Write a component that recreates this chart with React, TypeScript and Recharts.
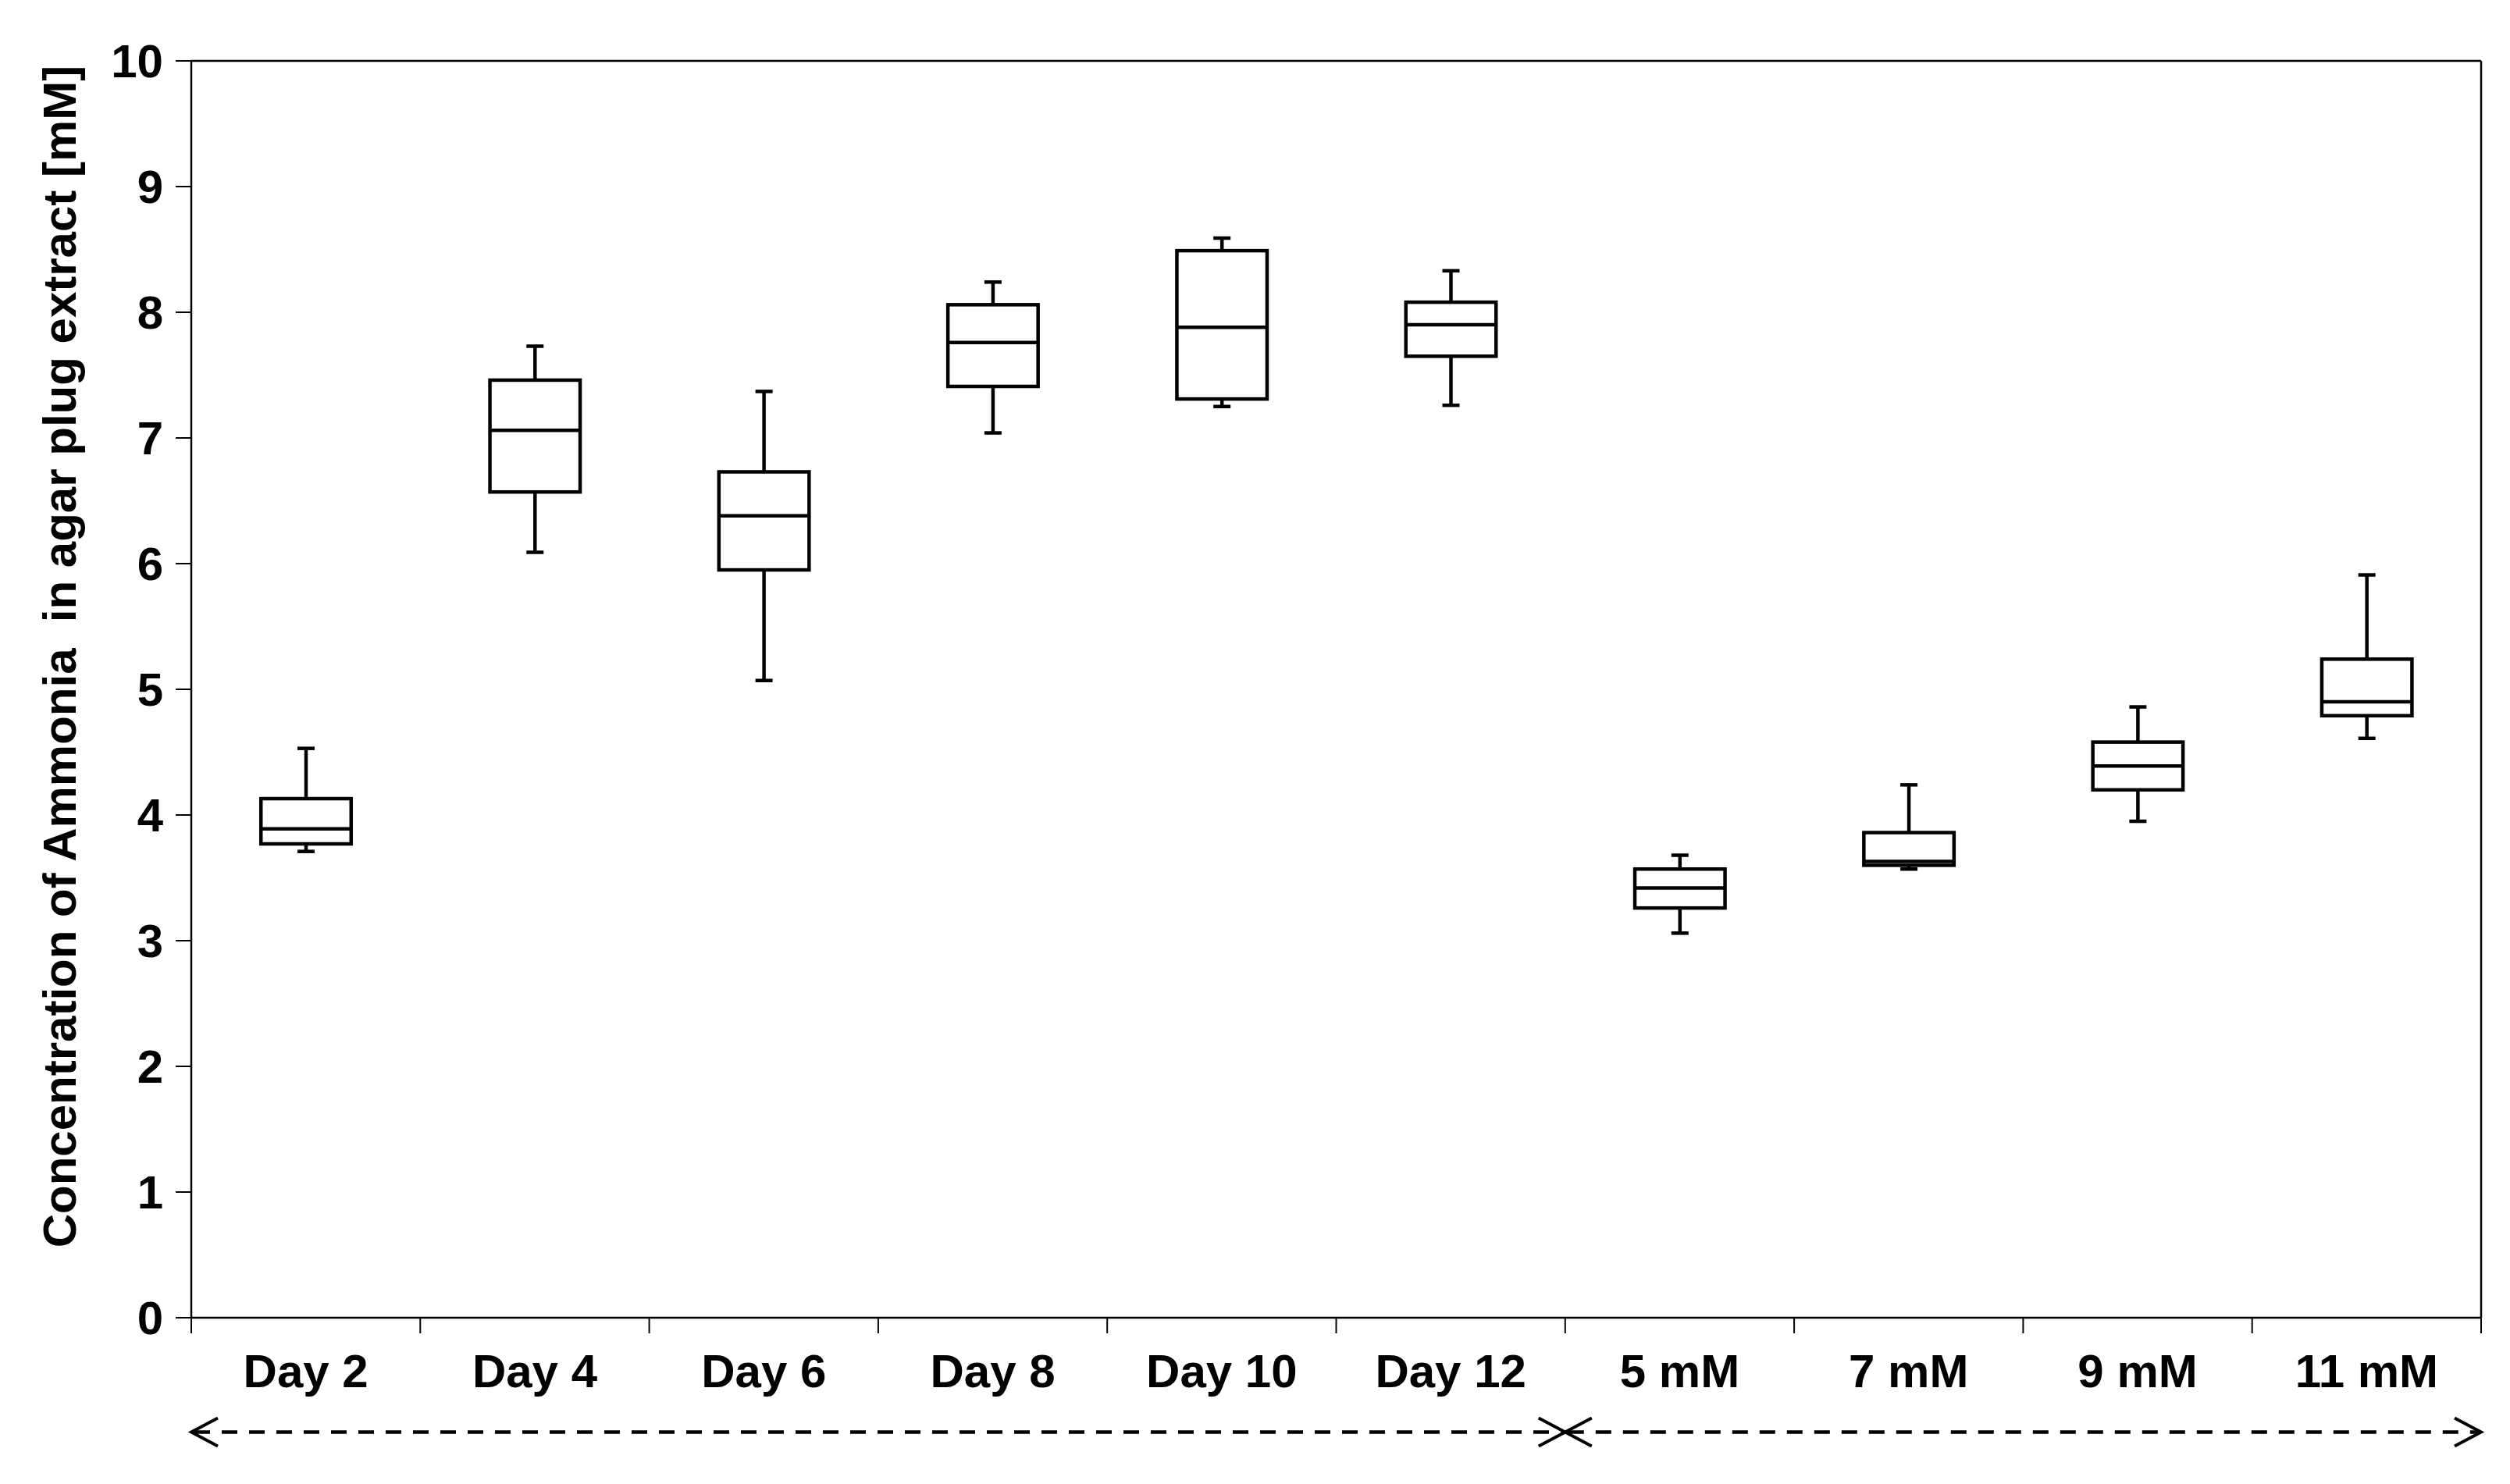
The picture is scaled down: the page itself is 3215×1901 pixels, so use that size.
import React from 'react';
import { ComposedChart, Bar, XAxis, YAxis, ReferenceLine } from 'recharts';

const categories = ['Day 2', 'Day 4', 'Day 6', 'Day 8', 'Day 10', 'Day 12', '5 mM', '7 mM', '9 mM', '11 mM'];
const whiskerLow = [3.71, 6.09, 5.07, 7.04, 7.25, 7.26, 3.06, 3.57, 3.95, 4.61];
const quartile1 = [3.77, 6.57, 5.95, 7.41, 7.31, 7.65, 3.26, 3.6, 4.2, 4.79];
const medians = [3.89, 7.06, 6.38, 7.76, 7.88, 7.9, 3.42, 3.63, 4.39, 4.9];
const quartile3 = [4.13, 7.46, 6.73, 8.06, 8.49, 8.08, 3.57, 3.86, 4.58, 5.24];
const whiskerHigh = [4.53, 7.73, 7.37, 8.24, 8.59, 8.33, 3.68, 4.24, 4.86, 5.91];
const yTicks = [0, 1, 2, 3, 4, 5, 6, 7, 8, 9, 10];
const yLabel = 'Concentration of Ammonia  in agar plug extract [mM]';
const dayGroupEnd = 6; // Day 2..Day 12 | 5 mM..11 mM
const arrowLevel = -0.91;

const data = categories.map((name, i) => ({
  name,
  pos: i + 0.5,
  range: [whiskerLow[i], whiskerHigh[i]],
  low: whiskerLow[i],
  q1: quartile1[i],
  med: medians[i],
  q3: quartile3[i],
  high: whiskerHigh[i],
}));

const xTicks: number[] = [];
for (let i = 0; i <= categories.length * 2; i++) xTicks.push(i / 2);

const FONT = '"Liberation Sans", Arial, Helvetica, sans-serif';
const SW = 4.5;

const BoxShape = (props: any) => {
  const { x, y, width, height, payload } = props;
  const top = Math.min(y, y + height);
  const bottom = Math.max(y, y + height);
  const { low, high, q1, med, q3 } = payload;
  const toY = (v: number) => bottom - ((v - low) / (high - low)) * (bottom - top);
  const cx = x + width / 2;
  const capHalf = 11;
  const yq1 = toY(q1);
  const yq3 = toY(q3);
  const ym = toY(med);
  const bx = x + SW / 2;
  const bw = width - SW;
  return (
    <g stroke="#000" strokeWidth={SW} fill="none">
      <line x1={cx} x2={cx} y1={top} y2={yq3} />
      <line x1={cx} x2={cx} y1={yq1} y2={bottom} />
      <line x1={cx - capHalf} x2={cx + capHalf} y1={top} y2={top} />
      <line x1={cx - capHalf} x2={cx + capHalf} y1={bottom} y2={bottom} />
      <rect x={bx} y={yq3} width={bw} height={yq1 - yq3} fill="#fff" />
      <line x1={bx} x2={bx + bw} y1={ym} y2={ym} />
    </g>
  );
};

const XTick = (props: any) => {
  const { x, y, payload } = props;
  const v = payload.value;
  if (Number.isInteger(v)) {
    return <line x1={x} x2={x} y1={y} y2={y + 20} stroke="#000" strokeWidth={2} />;
  }
  const label = categories[Math.floor(v)];
  return (
    <text x={x} y={y + 89} textAnchor="middle" fontFamily={FONT} fontWeight="bold" fontSize={60} fill="#000">
      {label}
    </text>
  );
};

const YTick = (props: any) => {
  const { x, y, payload } = props;
  return (
    <text x={x} y={y} dy={21} textAnchor="end" fontFamily={FONT} fontWeight="bold" fontSize={60} fill="#000">
      {payload.value}
    </text>
  );
};

const YLabel = (props: any) => {
  const { viewBox } = props;
  const cy = viewBox.y + viewBox.height / 2 - 42;
  const cx = 76;
  return (
    <text
      x={cx}
      y={cy}
      transform={`rotate(-90 ${cx} ${cy})`}
      textAnchor="middle"
      dominantBaseline="central"
      fontFamily={FONT}
      fontWeight="bold"
      fontSize={60}
      fill="#000"
      style={{ whiteSpace: 'pre' }}
    >
      {yLabel}
    </text>
  );
};

const DoubleArrow = (props: any) => {
  const { x1, y1, x2 } = props;
  const left = Math.min(x1, x2);
  const right = Math.max(x1, x2);
  const y = y1;
  const back = 34;
  const half = 18;
  return (
    <g>
      <line x1={left + 4} x2={right - 4} y1={y} y2={y} stroke="#000" strokeWidth={4.5} strokeDasharray="20 15" />
      <polyline
        points={`${left + back},${y - half} ${left},${y} ${left + back},${y + half}`}
        fill="none"
        stroke="#000"
        strokeWidth={4}
      />
      <polyline
        points={`${right - back},${y - half} ${right},${y} ${right - back},${y + half}`}
        fill="none"
        stroke="#000"
        strokeWidth={4}
      />
    </g>
  );
};

export default function App() {
  return (
    <div style={{ width: 3215, height: 1901, background: '#fff' }}>
      <style>{'body{margin:0;background:#fff}'}</style>
      <ComposedChart
        width={3215}
        height={1901}
        data={data}
        margin={{ top: 78, right: 37, bottom: 0, left: 0 }}
      >
        <XAxis
          dataKey="pos"
          type="number"
          domain={[0, categories.length]}
          ticks={xTicks}
          interval={0}
          tick={<XTick />}
          tickLine={false}
          tickSize={0}
          tickMargin={0}
          height={213}
          axisLine={{ stroke: '#000', strokeWidth: 2.5 }}
          allowDecimals
        />
        <YAxis
          type="number"
          domain={[0, 10]}
          ticks={yTicks}
          interval={0}
          width={245}
          tickSize={20}
          tickMargin={16}
          tick={<YTick />}
          tickLine={{ stroke: '#000', strokeWidth: 2 }}
          axisLine={{ stroke: '#000', strokeWidth: 2.5 }}
          label={<YLabel />}
        />
        <ReferenceLine y={10} stroke="#000" strokeWidth={2.5} />
        <ReferenceLine x={categories.length} stroke="#000" strokeWidth={2.5} />
        <Bar dataKey="range" barSize={120} shape={<BoxShape />} isAnimationActive={false} />
        <ReferenceLine
          segment={[{ x: 0, y: arrowLevel }, { x: dayGroupEnd, y: arrowLevel }]}
          ifOverflow="visible"
          shape={<DoubleArrow />}
        />
        <ReferenceLine
          segment={[{ x: dayGroupEnd, y: arrowLevel }, { x: categories.length, y: arrowLevel }]}
          ifOverflow="visible"
          shape={<DoubleArrow />}
        />
      </ComposedChart>
    </div>
  );
}
